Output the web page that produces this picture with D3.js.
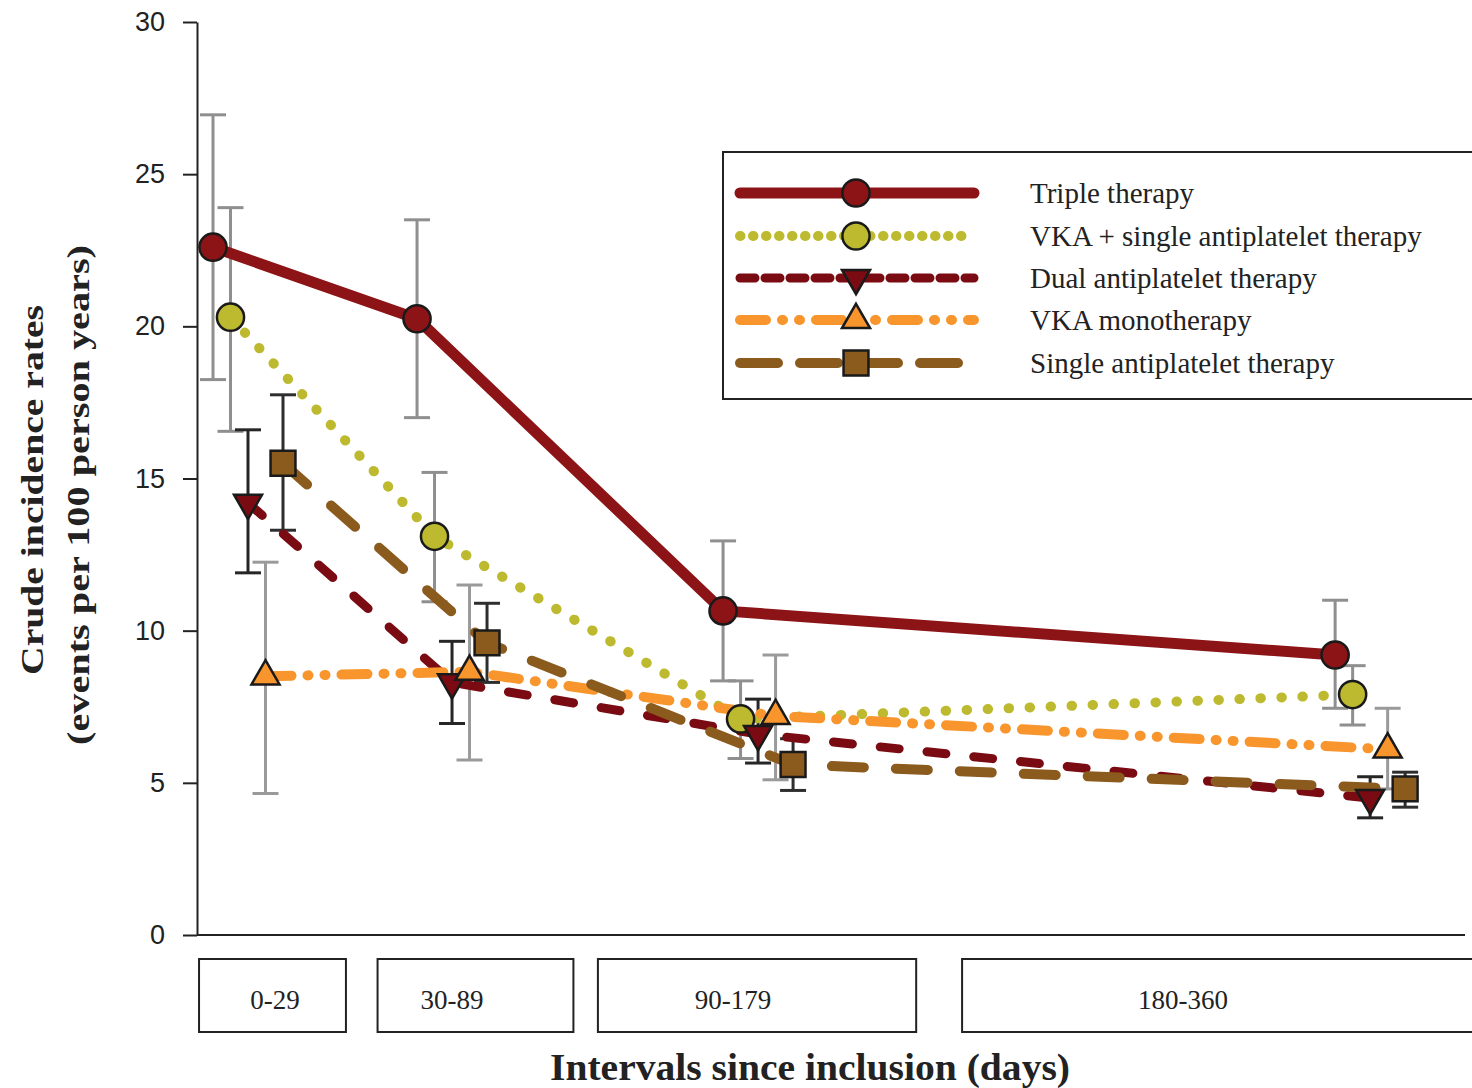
<!DOCTYPE html>
<html lang="en">
<head>
<meta charset="UTF-8">
<title>Crude incidence rates by interval</title>
<script src="https://d3js.org/d3.v7.min.js"></script>
<style>
  body { margin: 0; background: #fff; }
</style>
</head>
<body>
<svg width="1472" height="1088"></svg>
<script>
// ---- data ----
const intervals = ["0-29", "30-89", "90-179", "180-360"];
const intervalPos = [0, 2, 5, 11];          // relative spacing of the interval groups
const yTicks = [0, 5, 10, 15, 20, 25, 30];

const seriesNames = [
  "Triple therapy",
  "VKA + single antiplatelet therapy",
  "Dual antiplatelet therapy",
  "VKA monotherapy",
  "Single antiplatelet therapy"
];

const tripleRate = [22.6, 20.25, 10.65, 9.2];
const tripleLow  = [18.25, 17.0, 8.35, 7.45];
const tripleHigh = [26.95, 23.5, 12.95, 11.0];

const vkaSapRate = [20.3, 13.1, 7.1, 7.9];
const vkaSapLow  = [16.55, 10.95, 5.8, 6.9];
const vkaSapHigh = [23.9, 15.2, 8.35, 8.85];

const dualRate = [14.2, 8.3, 6.6, 4.5];
const dualLow  = [11.9, 6.95, 5.65, 3.85];
const dualHigh = [16.6, 9.65, 7.75, 5.2];

const vkaRate = [8.5, 8.65, 7.2, 6.1];
const vkaLow  = [4.65, 5.75, 5.1, 4.8];
const vkaHigh = [12.25, 11.5, 9.2, 7.45];

const sapRate = [15.5, 9.6, 5.6, 4.8];
const sapLow  = [13.3, 8.3, 4.75, 4.2];
const sapHigh = [17.75, 10.9, 6.45, 5.35];

// ---- styles ----
const series = [
  { name: seriesNames[0], rate: tripleRate, low: tripleLow, high: tripleHigh,
    color: "#8c1417", width: 11, dash: null, legendDash: null,
    symbol: "circle", err: "#8f8f8f" },
  { name: seriesNames[1], rate: vkaSapRate, low: vkaSapLow, high: vkaSapHigh,
    color: "#bdba2f", width: 10, dash: "0.5 20.5", legendDash: "0.5 12.5",
    symbol: "circle", err: "#8f8f8f" },
  { name: seriesNames[2], rate: dualRate, low: dualLow, high: dualHigh,
    color: "#7a0b12", width: 9, dash: "19 28", legendDash: "15 10",
    symbol: "down", err: "#262626" },
  { name: seriesNames[3], rate: vkaRate, low: vkaLow, high: vkaHigh,
    color: "#f8952d", width: 10, dash: "26 16 1 16 1 16", legendDash: "26 16 1 16 1 16",
    symbol: "up", err: "#9a9a9a" },
  { name: seriesNames[4], rate: sapRate, low: sapLow, high: sapHigh,
    color: "#8b5a1d", width: 10, dash: "32 32", legendDash: "38 22",
    symbol: "square", err: "#2e2e2e" }
];

// ---- layout ----
const svg = d3.select("svg");
const plotLeft = 197, plotRight = 1465, plotTop = 22, plotBottom = 935;
const seriesStep = 17.5;

const x = d3.scaleLinear().domain([-0.5, 11.93]).range([plotLeft, plotRight]);
const y = d3.scaleLinear().domain([0, 30]).range([plotBottom, plotTop]);

const px = (s, i) => x(intervalPos[i]) + (s - 2) * seriesStep;

svg.append("rect").attr("width", 1472).attr("height", 1088).attr("fill", "#fff");

// y axis
const yAxis = svg.append("g")
    .attr("transform", `translate(${plotLeft},0)`)
    .call(d3.axisLeft(y).tickValues(yTicks).tickSize(14).tickPadding(18).tickSizeOuter(0));
yAxis.select(".domain").attr("stroke", "#222").attr("stroke-width", 2);
yAxis.selectAll(".tick line").attr("stroke", "#222").attr("stroke-width", 2);
yAxis.selectAll(".tick text")
    .attr("font-family", "'Liberation Sans', Arial, sans-serif")
    .attr("font-size", 27).attr("fill", "#222");

// x axis line
svg.append("line")
    .attr("x1", plotLeft).attr("x2", plotRight)
    .attr("y1", plotBottom).attr("y2", plotBottom)
    .attr("stroke", "#222").attr("stroke-width", 2);

// y axis title
const yTitle = svg.append("g").attr("font-family", "'Liberation Serif', 'Times New Roman', serif")
    .attr("font-weight", "bold").attr("font-size", 32).attr("fill", "#222");
yTitle.append("text")
    .attr("transform", "translate(32,490) rotate(-90)")
    .attr("text-anchor", "middle").attr("dominant-baseline", "central")
    .attr("textLength", 370).attr("lengthAdjust", "spacingAndGlyphs")
    .text("Crude incidence rates");
yTitle.append("text")
    .attr("transform", "translate(78,495) rotate(-90)")
    .attr("text-anchor", "middle").attr("dominant-baseline", "central")
    .attr("textLength", 500).attr("lengthAdjust", "spacingAndGlyphs")
    .text("(events per 100 person years)");

// interval boxes under the axis
const intervalSpans = [[-0.48, 0.96], [1.27, 3.19], [3.43, 6.55], [7.0, 12.5]];
const boxG = svg.append("g");
intervals.forEach((lab, i) => {
  const [a, b] = intervalSpans[i];
  boxG.append("rect")
      .attr("x", x(a)).attr("y", 959)
      .attr("width", x(b) - x(a)).attr("height", 73)
      .attr("fill", "none").attr("stroke", "#222").attr("stroke-width", 2);
});
const labelCenters = [275, 452, 733, 1183];
intervals.forEach((lab, i) => {
  boxG.append("text")
      .attr("x", labelCenters[i]).attr("y", 1000)
      .attr("text-anchor", "middle").attr("dominant-baseline", "central")
      .attr("font-family", "'Liberation Serif', 'Times New Roman', serif")
      .attr("font-size", 27).attr("fill", "#222")
      .text(lab);
});

svg.append("text")
    .attr("x", 810).attr("y", 1080)
    .attr("text-anchor", "middle")
    .attr("font-family", "'Liberation Serif', 'Times New Roman', serif")
    .attr("font-weight", "bold").attr("font-size", 38).attr("fill", "#222")
    .attr("textLength", 520).attr("lengthAdjust", "spacingAndGlyphs")
    .text("Intervals since inclusion (days)");

// markers
function marker(sel, kind, color) {
  let p;
  if (kind === "circle") p = d3.symbol(d3.symbolCircle, 580)();
  else if (kind === "square") p = d3.symbol(d3.symbolSquare, 620)();
  else p = d3.symbol(d3.symbolTriangle, 340)();
  const m = sel.append("path").attr("d", p)
      .attr("fill", color).attr("stroke", "#1a1a1a").attr("stroke-width", 2.5);
  if (kind === "down") m.attr("transform", "rotate(180)");
  return m;
}

// error bars
const errG = svg.append("g");
series.forEach((s, si) => {
  s.rate.forEach((v, i) => {
    const cx = px(si, i);
    const g = errG.append("g").attr("stroke", s.err).attr("stroke-width", 3);
    g.append("line").attr("x1", cx).attr("x2", cx).attr("y1", y(s.high[i])).attr("y2", y(s.low[i]));
    [s.high[i], s.low[i]].forEach(e => {
      g.append("line").attr("x1", cx - 13).attr("x2", cx + 13).attr("y1", y(e)).attr("y2", y(e));
    });
  });
});

// lines
const line = d3.line();
series.forEach((s, si) => {
  svg.append("path")
      .attr("d", line(s.rate.map((v, i) => [px(si, i), y(v)])))
      .attr("fill", "none")
      .attr("stroke", s.color)
      .attr("stroke-width", s.width)
      .attr("stroke-linecap", "round")
      .attr("stroke-linejoin", "round")
      .attr("stroke-dasharray", s.dash);
});

// points
series.forEach((s, si) => {
  s.rate.forEach((v, i) => {
    const g = svg.append("g").attr("transform", `translate(${px(si, i)},${y(v)})`);
    marker(g, s.symbol, s.color);
  });
});

// legend
const legend = svg.append("g");
legend.append("rect")
    .attr("x", 723).attr("y", 152).attr("width", 780).attr("height", 247)
    .attr("fill", "#fff").attr("stroke", "#222").attr("stroke-width", 2);
const legendRows = [193, 236, 278, 320, 363];
series.forEach((s, si) => {
  const ly = legendRows[si];
  legend.append("line")
      .attr("x1", 740).attr("x2", 974).attr("y1", ly).attr("y2", ly)
      .attr("stroke", s.color).attr("stroke-width", s.width)
      .attr("stroke-linecap", "round")
      .attr("stroke-dasharray", s.legendDash);
  const g = legend.append("g").attr("transform", `translate(856,${ly})`);
  marker(g, s.symbol, s.color);
  legend.append("text")
      .attr("x", 1030).attr("y", ly)
      .attr("dominant-baseline", "central")
      .attr("font-family", "'Liberation Serif', 'Times New Roman', serif")
      .attr("font-size", 29).attr("fill", "#222")
      .text(s.name);
});
</script>
</body>
</html>
